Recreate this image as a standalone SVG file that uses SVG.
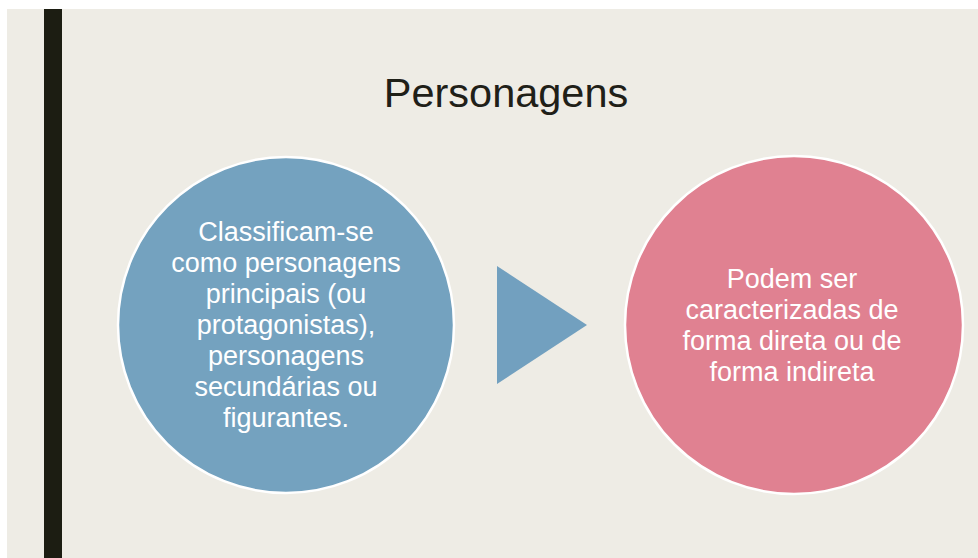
<svg xmlns="http://www.w3.org/2000/svg" width="978" height="558" viewBox="0 0 978 558">
<style>
.t{font-family:"Liberation Sans",Arial,sans-serif;fill:#ffffff;font-size:27px;text-anchor:middle}
.title{font-family:"Liberation Sans",Arial,sans-serif;fill:#1f2018;font-size:41.5px;text-anchor:middle}
.c{stroke:#ffffff;stroke-width:2.5}
</style>
<rect x="0" y="0" width="978" height="558" fill="#ffffff"/>
<rect x="7" y="9" width="971" height="549" fill="#eeece5"/>
<rect x="44" y="9" width="18" height="549" fill="#1c1d12"/>
<text class="title" x="506" y="107">Personagens</text>
<g id="node-left">
<circle class="c" cx="286" cy="325" r="168" fill="#74a2bf"/>
<text class="t" x="286" y="241">Classificam-se</text>
<text class="t" x="286" y="272">como personagens</text>
<text class="t" x="286" y="303">principais (ou</text>
<text class="t" x="286" y="334">protagonistas),</text>
<text class="t" x="286" y="365">personagens</text>
<text class="t" x="286" y="396">secundárias ou</text>
<text class="t" x="286" y="427">figurantes.</text>
</g>
<g id="connectors">
<polygon points="497,266 587,325 497,384" fill="#72a0bf"/>
</g>
<g id="node-right">
<circle class="c" cx="794" cy="325" r="169" fill="#e08191"/>
<text class="t" x="792" y="288">Podem ser</text>
<text class="t" x="792" y="319">caracterizadas de</text>
<text class="t" x="792" y="350">forma direta ou de</text>
<text class="t" x="792" y="381">forma indireta</text>
</g>
</svg>
